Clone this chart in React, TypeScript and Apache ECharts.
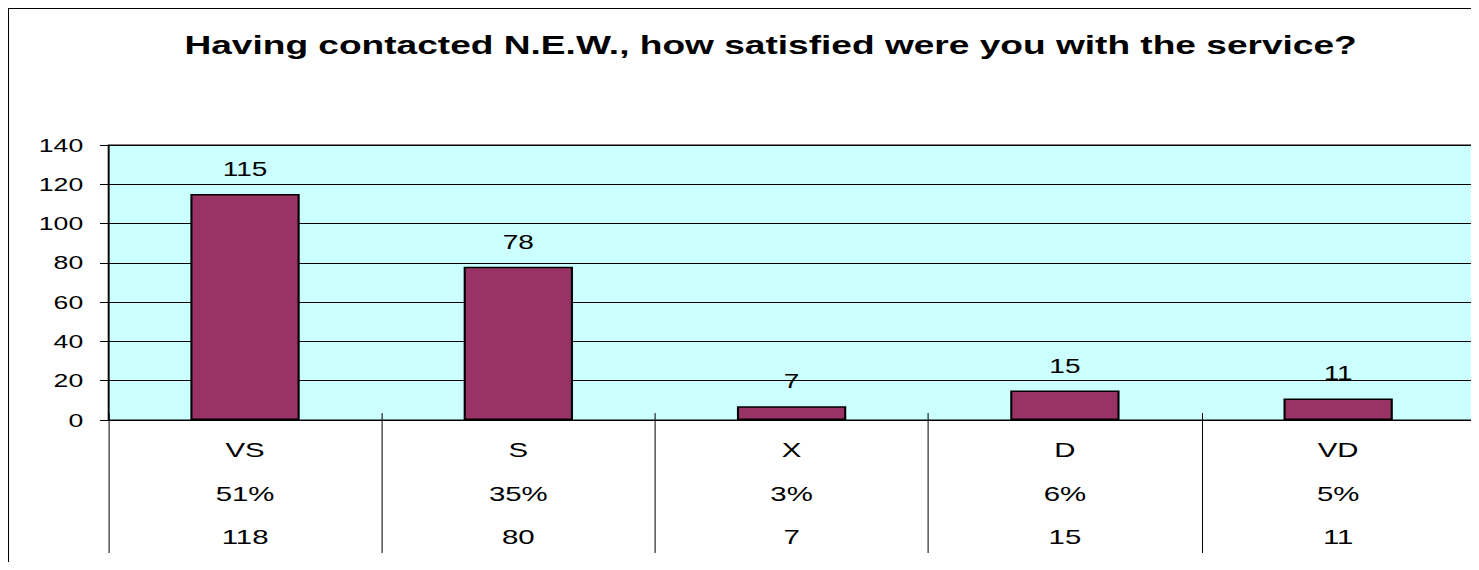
import React, { useEffect, useRef } from "react";
import * as echarts from "echarts";

const categories = ["VS", "S", "X", "D", "VD"];
const values = [115, 78, 7, 15, 11];
const percents = ["51%", "35%", "3%", "6%", "5%"];
const counts = [118, 80, 7, 15, 11];
const titleText = "Having contacted N.E.W., how satisfied were you with the service?";

const STRETCH = 1.4;
const W = 1049;
const H = 553;
const FONT = "'Liberation Sans', Arial, sans-serif";

export default function App() {
  const ref = useRef<HTMLDivElement>(null);
  useEffect(() => {
    if (!ref.current) return;
    const chart = echarts.init(ref.current, undefined, { renderer: "svg" });
    chart.setOption({
      animation: false,
      backgroundColor: "#ffffff",
      title: {
        text: titleText,
        left: 544,
        textAlign: "center",
        top: 22,
        padding: 0,
        textStyle: { fontFamily: FONT, fontSize: 26.5, fontWeight: "bold", color: "#000" },
      },
      grid: {
        left: 71,
        right: 2,
        top: 136,
        bottom: 142,
        show: true,
        backgroundColor: "#CCFFFF",
        borderColor: "#000",
        borderWidth: 1,
      },
      xAxis: [
        {
          type: "category",
          position: "bottom",
          data: categories,
          axisLine: { show: true, lineStyle: { color: "#000", width: 1 } },
          axisTick: { show: true, length: 133, lineStyle: { color: "#000", width: 0.72 } },
          axisLabel: {
            margin: 8,
            fontFamily: FONT,
            fontSize: 21,
            color: "#000",
            lineHeight: 43.5,
            formatter: (v: string, i: number) => `${v}\n${percents[i]}\n${counts[i]}`,
          },
        },
        {
          type: "category",
          position: "bottom",
          data: categories,
          axisLine: { show: false },
          axisTick: { show: true, inside: true, length: 7, lineStyle: { color: "#000", width: 0.72 } },
          axisLabel: { show: false },
        },
      ],
      yAxis: {
        type: "value",
        min: 0,
        max: 140,
        interval: 20,
        axisLine: { show: true, lineStyle: { color: "#000", width: 0.72 } },
        axisTick: { show: true, length: 6, lineStyle: { color: "#000", width: 1 } },
        splitLine: { show: true, lineStyle: { color: "#000", width: 1 } },
        axisLabel: { margin: 18, fontFamily: FONT, fontSize: 19, color: "#000" },
      },
      series: [
        {
          type: "bar",
          data: values,
          barCategoryGap: "60%",
          itemStyle: { color: "#993366", borderColor: "#000", borderWidth: 1.5 },
          label: {
            show: true,
            position: "top",
            distance: 15,
            fontFamily: FONT,
            fontSize: 20,
            color: "#000",
          },
        },
      ],
    });
    return () => chart.dispose();
  }, []);
  return (
    <div style={{ borderLeft: "1px solid #000", borderTop: "1px solid #000", width: 1470, height: 553, overflow: "visible" }}>
      <div
        ref={ref}
        style={{ width: W, height: H, transform: `scaleX(${STRETCH})`, transformOrigin: "0 0" }}
      />
    </div>
  );
}
